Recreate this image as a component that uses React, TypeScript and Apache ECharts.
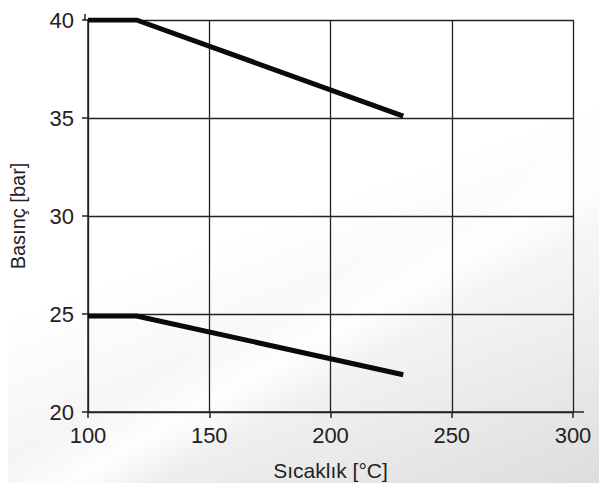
import React, { useEffect, useRef } from "react";
import * as echarts from "echarts";

const upperX = [100, 120, 230];
const upperY = [40, 40, 35.1];
const lowerX = [100, 120, 230];
const lowerY = [24.9, 24.9, 21.9];
const xTitle = "Sıcaklık [°C]";
const yTitle = "Basınç [bar]";

export default function App() {
  const ref = useRef<HTMLDivElement>(null);
  useEffect(() => {
    if (!ref.current) return;
    const chart = echarts.init(ref.current, null, { renderer: "svg" });
    const font = "Liberation Sans";
    const axisCol = "#222";
    chart.setOption({
      animation: false,
      backgroundColor: "transparent",
      grid: { left: 85, right: 34, top: 20, bottom: 79 },
      xAxis: {
        type: "value",
        min: 100,
        max: 300,
        interval: 50,
        name: xTitle,
        nameLocation: "middle",
        nameGap: 48,
        nameTextStyle: { fontFamily: font, fontSize: 21, color: "#222" },
        axisLine: { show: true, lineStyle: { color: axisCol, width: 1.5 } },
        axisTick: { show: true, length: 6, lineStyle: { color: axisCol, width: 1.5 } },
        axisLabel: { fontFamily: font, fontSize: 22, color: "#222", margin: 12 },
        splitLine: { show: true, lineStyle: { color: axisCol, width: 1.3 } },
      },
      yAxis: {
        type: "value",
        min: 20,
        max: 40,
        interval: 5,
        name: yTitle,
        nameLocation: "middle",
        nameGap: 60,
        nameTextStyle: { fontFamily: font, fontSize: 20, color: "#222" },
        axisLine: { show: true, lineStyle: { color: axisCol, width: 1.5 } },
        axisTick: { show: true, length: 6, lineStyle: { color: axisCol, width: 1.5 } },
        axisLabel: { fontFamily: font, fontSize: 22, color: "#222", margin: 14 },
        splitLine: { show: true, lineStyle: { color: axisCol, width: 1.3 } },
      },
      graphic: [
        { type: "line", shape: { x1: 573, y1: 412, x2: 584, y2: 412 }, style: { stroke: axisCol, lineWidth: 1.5 } },
        { type: "line", shape: { x1: 85, y1: 20, x2: 85, y2: 14 }, style: { stroke: axisCol, lineWidth: 1.5 } },
      ],
      series: [
        {
          type: "line",
          data: upperX.map((x, i) => [x, upperY[i]]),
          showSymbol: false,
          lineStyle: { color: "#0a0a0a", width: 5 },
          z: 5,
        },
        {
          type: "line",
          data: lowerX.map((x, i) => [x, lowerY[i]]),
          showSymbol: false,
          lineStyle: { color: "#0a0a0a", width: 5 },
          z: 5,
        },
      ],
    });
    return () => chart.dispose();
  }, []);
  return (
    <div
      style={{
        width: 607,
        height: 491,
        margin: -8,
        background:
          "linear-gradient(150deg, rgba(255,255,255,0) 55%, rgba(255,255,255,0.9) 62%, rgba(255,255,255,0) 68%), linear-gradient(160deg, #ffffff 45%, #f2f2f3 70%, #dcdcde 100%)",
      }}
    >
      <div ref={ref} style={{ width: 607, height: 491 }} />
    </div>
  );
}
